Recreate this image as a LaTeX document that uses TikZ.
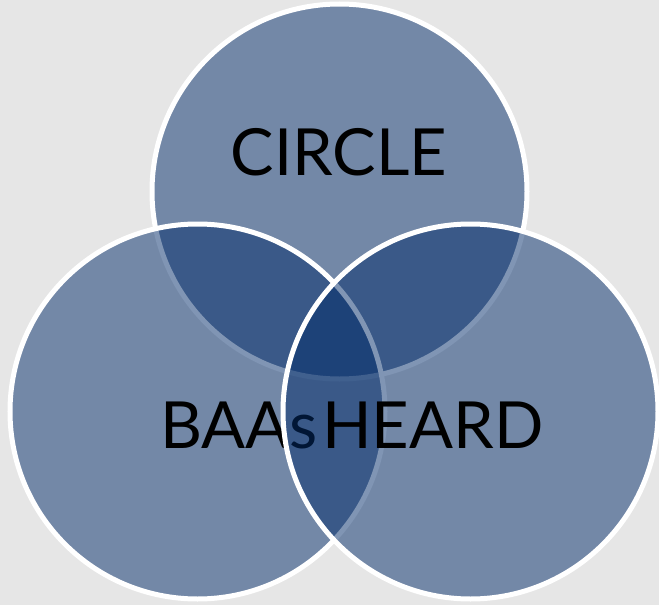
\documentclass[tikz,border=0pt]{standalone}
\usepackage{fontspec}
\setmainfont{Lato}
\definecolor{bgc}{RGB}{230,230,230}
\definecolor{vfill}{RGB}{2,44,106}
\tikzset{
  venn/.style={draw=white, line width=5pt, fill=vfill, fill opacity=0.5},
  vlabel/.style={font=\fontsize{65}{70}\selectfont, text=black, inner sep=0pt, anchor=base}
}
\begin{document}
\begin{tikzpicture}[x=1pt,y=-1pt]
\useasboundingbox[fill=bgc] (0,0) rectangle (659,605);
\path[venn] (339.5,191.5) circle (187.5);
\node[vlabel] (circle) at (339,175) {CIRCLE};
\path[venn] (197.5,411.5) circle (187.5);
\node[vlabel, anchor=base east] (baas) at (318,448) {BAAs};
\path[venn] (470.5,411.5) circle (187.5);
\node[vlabel, anchor=base west] (heard) at (322,448) {HEARD};
\end{tikzpicture}
\end{document}
